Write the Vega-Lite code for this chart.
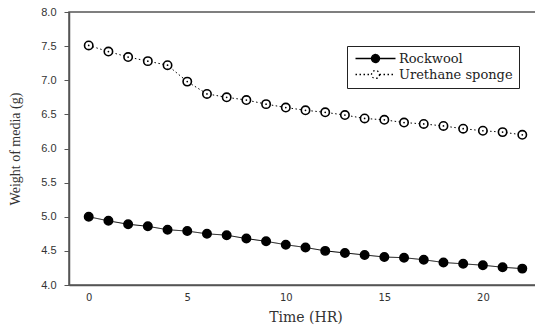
{
  "$schema": "https://vega.github.io/schema/vega-lite/v6.json",
  "width": 473,
  "height": 273,
  "autosize": {"type": "none"},
  "padding": {"left": 69, "top": 12, "right": 0, "bottom": 44},
  "background": "white",
  "config": {
    "view": {"stroke": "#555555", "strokeWidth": 1.5},
    "axis": {"domainColor": "#555555", "domainWidth": 1.5, "grid": false, "labelColor": "#333333", "labelFont": "Liberation Sans", "labelFontSize": 11, "titleFont": "Liberation Serif", "titleFontSize": 14, "titleFontWeight": "normal", "titleColor": "#333333", "tickColor": "#555555"},
    "legend": {"orient": "none", "legendX": 278, "legendY": 34, "strokeColor": "#222222", "padding": 6, "labelFont": "DejaVu Serif", "labelFontSize": 13, "labelColor": "#222222", "rowPadding": 1}
  },
  "data": {"values": [
    {"series": "Rockwool", "hr": 0, "w": 5.00},
    {"series": "Rockwool", "hr": 1, "w": 4.94},
    {"series": "Rockwool", "hr": 2, "w": 4.89},
    {"series": "Rockwool", "hr": 3, "w": 4.86},
    {"series": "Rockwool", "hr": 4, "w": 4.81},
    {"series": "Rockwool", "hr": 5, "w": 4.79},
    {"series": "Rockwool", "hr": 6, "w": 4.75},
    {"series": "Rockwool", "hr": 7, "w": 4.73},
    {"series": "Rockwool", "hr": 8, "w": 4.68},
    {"series": "Rockwool", "hr": 9, "w": 4.64},
    {"series": "Rockwool", "hr": 10, "w": 4.59},
    {"series": "Rockwool", "hr": 11, "w": 4.55},
    {"series": "Rockwool", "hr": 12, "w": 4.50},
    {"series": "Rockwool", "hr": 13, "w": 4.47},
    {"series": "Rockwool", "hr": 14, "w": 4.44},
    {"series": "Rockwool", "hr": 15, "w": 4.41},
    {"series": "Rockwool", "hr": 16, "w": 4.40},
    {"series": "Rockwool", "hr": 17, "w": 4.37},
    {"series": "Rockwool", "hr": 18, "w": 4.33},
    {"series": "Rockwool", "hr": 19, "w": 4.31},
    {"series": "Rockwool", "hr": 20, "w": 4.29},
    {"series": "Rockwool", "hr": 21, "w": 4.26},
    {"series": "Rockwool", "hr": 22, "w": 4.24},
    {"series": "Urethane sponge", "hr": 0, "w": 7.51},
    {"series": "Urethane sponge", "hr": 1, "w": 7.42},
    {"series": "Urethane sponge", "hr": 2, "w": 7.34},
    {"series": "Urethane sponge", "hr": 3, "w": 7.28},
    {"series": "Urethane sponge", "hr": 4, "w": 7.22},
    {"series": "Urethane sponge", "hr": 5, "w": 6.98},
    {"series": "Urethane sponge", "hr": 6, "w": 6.80},
    {"series": "Urethane sponge", "hr": 7, "w": 6.75},
    {"series": "Urethane sponge", "hr": 8, "w": 6.71},
    {"series": "Urethane sponge", "hr": 9, "w": 6.65},
    {"series": "Urethane sponge", "hr": 10, "w": 6.60},
    {"series": "Urethane sponge", "hr": 11, "w": 6.56},
    {"series": "Urethane sponge", "hr": 12, "w": 6.53},
    {"series": "Urethane sponge", "hr": 13, "w": 6.49},
    {"series": "Urethane sponge", "hr": 14, "w": 6.44},
    {"series": "Urethane sponge", "hr": 15, "w": 6.42},
    {"series": "Urethane sponge", "hr": 16, "w": 6.38},
    {"series": "Urethane sponge", "hr": 17, "w": 6.36},
    {"series": "Urethane sponge", "hr": 18, "w": 6.33},
    {"series": "Urethane sponge", "hr": 19, "w": 6.29},
    {"series": "Urethane sponge", "hr": 20, "w": 6.26},
    {"series": "Urethane sponge", "hr": 21, "w": 6.24},
    {"series": "Urethane sponge", "hr": 22, "w": 6.20}
  ]},
  "encoding": {
    "x": {"field": "hr", "type": "quantitative", "scale": {"domain": [-1, 23], "nice": false, "zero": false},
      "axis": {"title": "Time (HR)", "titleFont": "DejaVu Serif", "values": [0, 5, 10, 15, 20], "ticks": false, "labelPadding": 7, "titlePadding": 8, "labelFont": "DejaVu Sans", "labelFontSize": 10}},
    "y": {"field": "w", "type": "quantitative", "scale": {"domain": [4, 8], "nice": false, "zero": false},
      "axis": {"title": "Weight of media (g)", "values": [4, 4.5, 5, 5.5, 6, 6.5, 7, 7.5, 8], "format": ".1f", "tickSize": 5, "labelPadding": 8, "titlePadding": 18}}
  },
  "layer": [
    {
      "mark": {"type": "line", "color": "black", "strokeWidth": 1},
      "encoding": {
        "strokeDash": {"field": "series", "type": "nominal",
          "scale": {"domain": ["Rockwool", "Urethane sponge"], "range": [[1, 0], [1.5, 2.5]]},
          "legend": {"title": null, "symbolType": "M-1,0H3M5,0H9M5,0A1,1,0,1,1,3,0A1,1,0,1,1,5,0Z", "symbolSize": 64, "symbolStrokeColor": "black", "symbolStrokeWidth": 1.3, "labelOffset": 33}}
      }
    },
    {
      "mark": {"type": "point", "shape": "circle", "stroke": "black", "strokeWidth": 1.6, "size": 70, "opacity": 1},
      "encoding": {
        "fill": {"field": "series", "type": "nominal",
          "scale": {"domain": ["Rockwool", "Urethane sponge"], "range": ["black", "white"]},
          "legend": {"title": null, "symbolType": "M-1,0H3M5,0H9M5,0A1,1,0,1,1,3,0A1,1,0,1,1,5,0Z", "symbolSize": 64, "symbolStrokeColor": "black", "symbolStrokeWidth": 1.3, "labelOffset": 33}}
      }
    },
    {
      "transform": [{"filter": "datum.series === 'Urethane sponge'"}],
      "mark": {"type": "point", "shape": "circle", "filled": true, "color": "black", "size": 3, "opacity": 1}
    }
  ]
}
